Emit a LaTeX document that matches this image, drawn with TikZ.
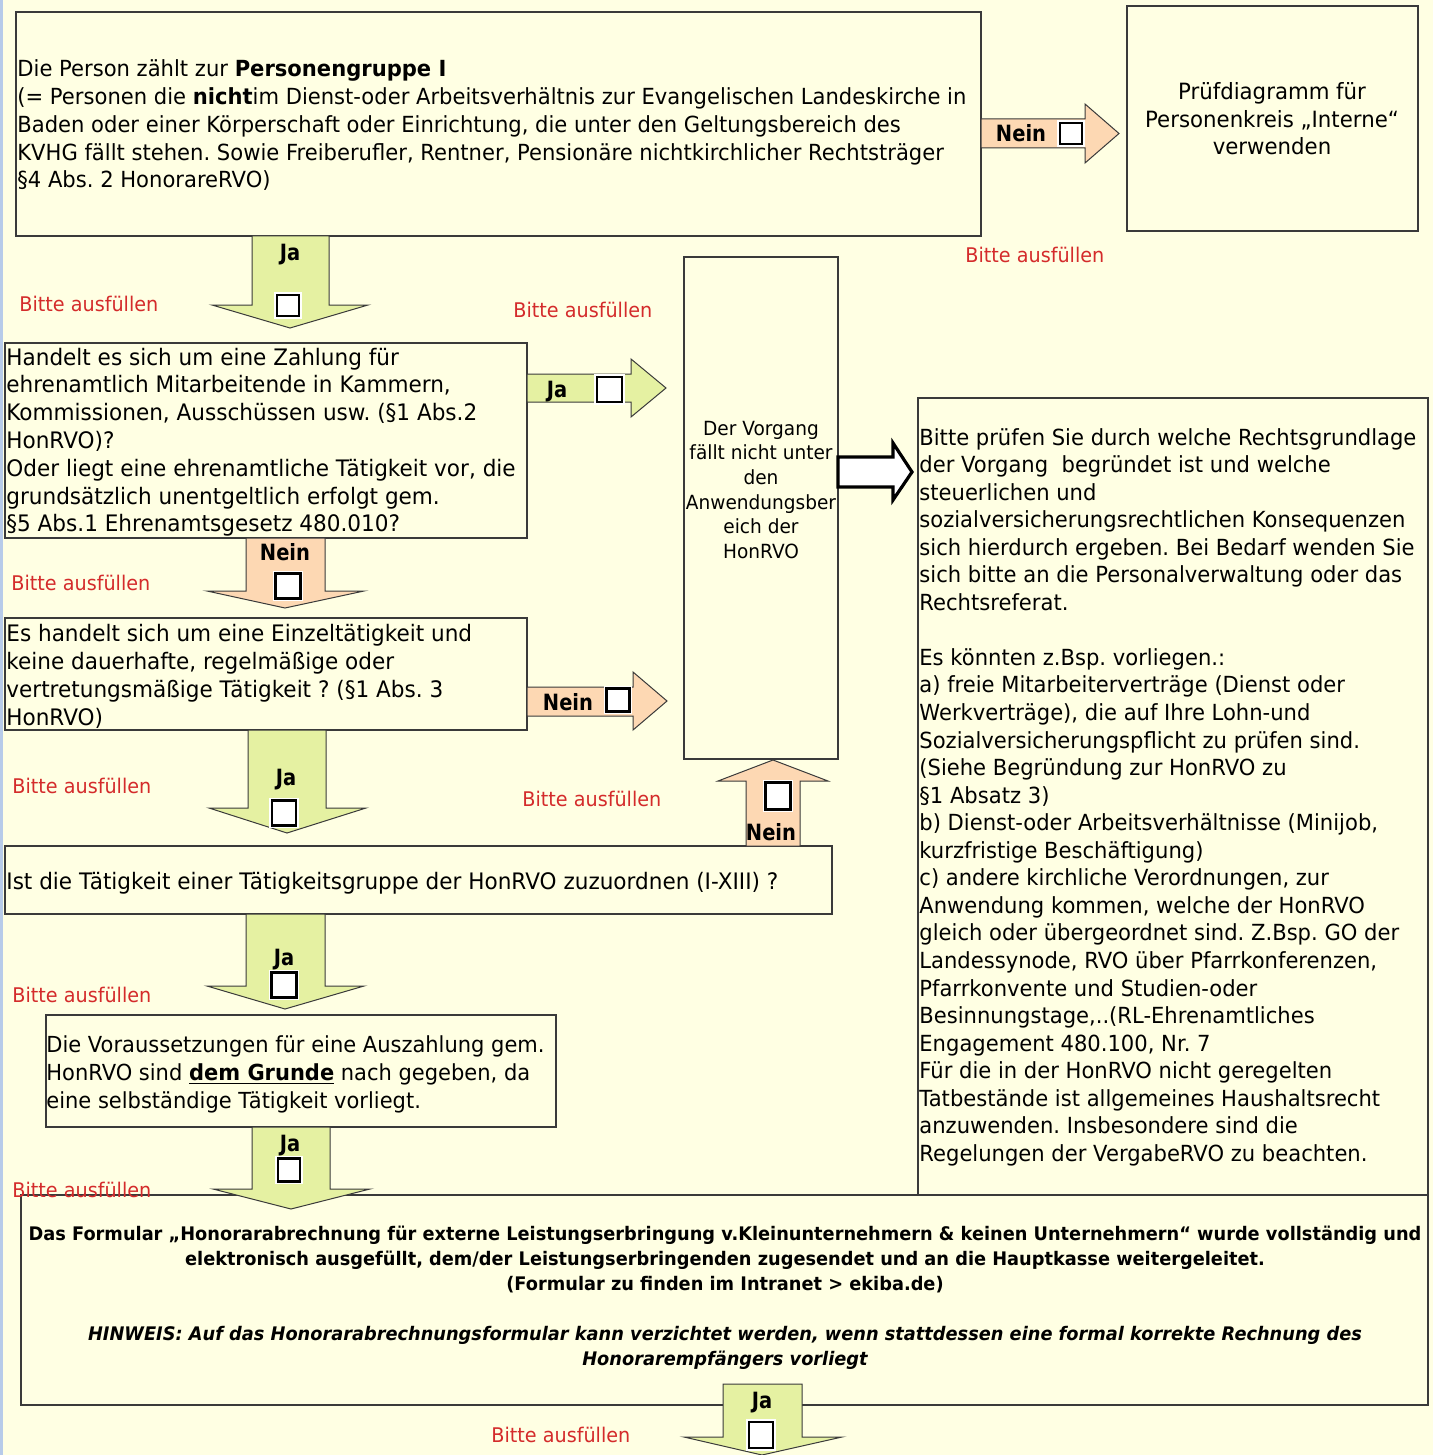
\documentclass[tikz,border=0pt]{standalone}
\usepackage{fontspec}
\setmainfont{DejaVu Sans}[FakeStretch=0.95]
\newfontfamily\narrowfont{DejaVu Sans}[FakeStretch=0.87]
\usetikzlibrary{fit}
\definecolor{bgc}{HTML}{FFFFE3}
\definecolor{stripc}{HTML}{B7CBE9}
\definecolor{greenc}{HTML}{E5F1A2}
\definecolor{peachc}{HTML}{FDD8B3}
\definecolor{redc}{HTML}{D42B2B}
\definecolor{linec}{HTML}{3A3A3A}
\newcommand\mlines[2]{\begin{tabular}[t]{@{}#1@{}}#2\end{tabular}}
\frenchspacing
\begin{document}
\frenchspacing
\begin{tikzpicture}[x=0.5pt,y=-0.5pt,
  boxst/.style={draw=linec, line width=0.65pt, fill=bgc, inner sep=0pt},
  garrow/.style={draw=linec, line width=0.5pt, fill=greenc, line join=miter},
  parrow/.style={draw=linec, line width=0.5pt, fill=peachc, line join=miter},
  warrow/.style={draw=black, line width=1.6pt, fill=white, line join=miter},
  txt/.style={inner sep=0pt, anchor=base west},
  ctxt/.style={inner sep=0pt, anchor=base},
  lbl/.style={inner sep=0pt, anchor=base, font=\narrowfont\bfseries\fontsize{11.2}{13}\selectfont},
  redlbl/.style={inner sep=0pt, anchor=base west, text=redc, font=\fontsize{10.1}{12}\selectfont},
  cbox/.style={rectangle, draw=black, line width=1.2pt, fill=white, inner sep=0pt,
    preaction={draw=white, line width=2.6pt}}
]
\useasboundingbox (0,0) rectangle (1433,1455);
\fill[bgc] (0,0) rectangle (1433,1455);
\fill[stripc] (0,0) rectangle (3,1455);

% boxes
\node[boxst, fit={(16,12) (981,236)}] (b1) {};
\node[boxst, fit={(1127,6) (1418,231)}] (b2) {};
\node[boxst, fit={(5,343) (527,538)}] (b3) {};
\node[boxst, fit={(684,257) (838,759)}] (b4) {};
\node[boxst, fit={(918,398) (1428,1196)}] (b5) {};
\node[boxst, fit={(5,618) (527,730)}] (b6) {};
\node[boxst, fit={(5,846) (832,914)}] (b7) {};
\node[boxst, fit={(46,1015) (556,1127)}] (b8) {};
\node[boxst, fit={(21,1195) (1428,1405)}] (b9) {};

% block arrows
\filldraw[garrow] (252,236) -- (252,305) -- (212,305) -- (290,328) -- (368,305) -- (329,305) -- (329,236) -- cycle;
\filldraw[parrow] (981,119) -- (1085,119) -- (1085,104) -- (1119,133.5) -- (1085,163) -- (1085,148) -- (981,148) -- cycle;
\filldraw[garrow] (527,374) -- (631,374) -- (631,359) -- (666,388) -- (631,417) -- (631,402) -- (527,402) -- cycle;
\filldraw[parrow] (246,538) -- (246,591) -- (207,591) -- (285,608) -- (364,591) -- (325,591) -- (325,538) -- cycle;
\filldraw[parrow] (527,687) -- (633,687) -- (633,672) -- (667,701) -- (633,730) -- (633,716) -- (527,716) -- cycle;
\filldraw[garrow] (248,730) -- (248,808) -- (209,808) -- (287,833) -- (366,808) -- (326,808) -- (326,730) -- cycle;
\filldraw[parrow] (746,846) -- (746,781) -- (718,781) -- (773,760) -- (828,781) -- (800,781) -- (800,846) -- cycle;
\filldraw[garrow] (246,914) -- (246,986) -- (207,986) -- (285,1009) -- (364,986) -- (325,986) -- (325,914) -- cycle;
\filldraw[garrow] (252,1127) -- (252,1189) -- (213,1189) -- (291,1209) -- (370,1189) -- (330,1189) -- (330,1127) -- cycle;
\filldraw[garrow] (723,1384) -- (723,1437) -- (684,1437) -- (762,1455) -- (842,1437) -- (802,1437) -- (802,1384) -- cycle;
\filldraw[warrow] (838,457) -- (893,457) -- (893,443) -- (912,472) -- (893,500) -- (893,487) -- (838,487) -- cycle;

% texts
\node[txt, font=\fontsize{11.1}{13.875}\selectfont] (t1) at (17,77) {\mlines{l}{%
Die Person zählt zur \textbf{Personengruppe I}\\
(= Personen die \textbf{nicht}im Dienst-oder Arbeitsverhältnis zur Evangelischen Landeskirche in\\
Baden oder einer Körperschaft oder Einrichtung, die unter den Geltungsbereich des\\
KVHG fällt stehen. Sowie Freiberufler, Rentner, Pensionäre nichtkirchlicher Rechtsträger\\
§4 Abs. 2 HonorareRVO)}};
\node[ctxt, font=\fontsize{11.2}{13.75}\selectfont] (t2) at (1272,100) {\mlines{c}{%
Prüfdiagramm für\\ Personenkreis „Interne“\\ verwenden}};
\node[txt, font=\fontsize{11.35}{13.9}\selectfont] (t3) at (6,365) {\mlines{l}{%
Handelt es sich um eine Zahlung für\\
ehrenamtlich Mitarbeitende in Kammern,\\
Kommissionen, Ausschüssen usw. (§1 Abs.2\\
HonRVO)?\\
Oder liegt eine ehrenamtliche Tätigkeit vor, die\\
grundsätzlich unentgeltlich erfolgt gem.\\
§5 Abs.1 Ehrenamtsgesetz 480.010?}};
\node[ctxt, font=\fontsize{9.75}{12.35}\selectfont] (t4) at (761,435) {\mlines{c}{%
Der Vorgang\\ fällt nicht unter\\ den\\ Anwendungsber\\ eich der\\ HonRVO}};
\node[txt, font=\fontsize{11.1}{13.775}\selectfont] (t5) at (919,445) {\mlines{l}{%
Bitte prüfen Sie durch welche Rechtsgrundlage\\
der Vorgang\ \ begründet ist und welche\\
steuerlichen und\\
sozialversicherungsrechtlichen Konsequenzen\\
sich hierdurch ergeben. Bei Bedarf wenden Sie\\
sich bitte an die Personalverwaltung oder das\\
Rechtsreferat.\\
\\
Es könnten z.Bsp. vorliegen.:\\
a) freie Mitarbeiterverträge (Dienst oder\\
Werkverträge), die auf Ihre Lohn-und\\
Sozialversicherungspflicht zu prüfen sind.\\
(Siehe Begründung zur HonRVO zu\\
§1 Absatz 3)\\
b) Dienst-oder Arbeitsverhältnisse (Minijob,\\
kurzfristige Beschäftigung)\\
c) andere kirchliche Verordnungen, zur\\
Anwendung kommen, welche der HonRVO\\
gleich oder übergeordnet sind. Z.Bsp. GO der\\
Landessynode, RVO über Pfarrkonferenzen,\\
Pfarrkonvente und Studien-oder\\
Besinnungstage,..(RL-Ehrenamtliches\\
Engagement 480.100, Nr. 7\\
Für die in der HonRVO nicht geregelten\\
Tatbestände ist allgemeines Haushaltsrecht\\
anzuwenden. Insbesondere sind die\\
Regelungen der VergabeRVO zu beachten.}};
\node[txt, font=\fontsize{11.35}{14}\selectfont] (t6) at (6,641) {\mlines{l}{%
Es handelt sich um eine Einzeltätigkeit und\\
keine dauerhafte, regelmäßige oder\\
vertretungsmäßige Tätigkeit ? (§1 Abs. 3\\
HonRVO)}};
\node[txt, font=\fontsize{11.35}{14}\selectfont] (t7) at (6,889) {Ist die Tätigkeit einer Tätigkeitsgruppe der HonRVO zuzuordnen (I-XIII) ?};
\node[txt, font=\fontsize{11.05}{14}\selectfont] (t8) at (46,1052) {\mlines{l}{%
Die Voraussetzungen für eine Auszahlung gem.\\
HonRVO sind \underline{\textbf{dem Grunde}} nach gegeben, da\\
eine selbständige Tätigkeit vorliegt.}};
\node[ctxt, font=\bfseries\fontsize{9.35}{12.5}\selectfont] (t9) at (725,1240) {\mlines{c}{%
Das Formular „Honorarabrechnung für externe Leistungserbringung v.Kleinunternehmern \& keinen Unternehmern“ wurde vollständig und\\
elektronisch ausgefüllt, dem/der Leistungserbringenden zugesendet und an die Hauptkasse weitergeleitet.\\
(Formular zu finden im Intranet > ekiba.de)\\
\\
\itshape HINWEIS: Auf das Honorarabrechnungsformular kann verzichtet werden, wenn stattdessen eine formal korrekte Rechnung des\\
\itshape Honorarempfängers vorliegt}};

% red hints
\node[redlbl] (r1) at (19,311) {Bitte ausfüllen};
\node[redlbl] (r2) at (965,263) {Bitte ausfüllen};
\node[redlbl] (r3) at (513,317) {Bitte ausfüllen};
\node[redlbl] (r4) at (11,590) {Bitte ausfüllen};
\node[redlbl] (r5) at (12,793) {Bitte ausfüllen};
\node[redlbl] (r6) at (522,806) {Bitte ausfüllen};
\node[redlbl] (r7) at (12,1002) {Bitte ausfüllen};
\node[redlbl] (r8) at (12,1197) {Bitte ausfüllen};
\node[redlbl] (r9) at (491,1442) {Bitte ausfüllen};

% Ja / Nein labels
\node[lbl] (l1) at (290,261) {Ja};
\node[lbl] (l2) at (1021,142) {Nein};
\node[lbl] (l3) at (557,397) {Ja};
\node[lbl] (l4) at (285,560) {Nein};
\node[lbl] (l5) at (568,710) {Nein};
\node[lbl] (l6) at (286,785) {Ja};
\node[lbl] (l7) at (771,840) {Nein};
\node[lbl] (l8) at (284,965) {Ja};
\node[lbl] (l9) at (290,1151) {Ja};
\node[lbl] (l10) at (762,1408) {Ja};

% checkboxes
\node[cbox, minimum width=11pt, minimum height=10.5pt] (c1) at (288,305.5) {};
\node[cbox, minimum width=11pt, minimum height=10.5pt] (c2) at (1071,133.5) {};
\node[cbox, minimum width=12.5pt, minimum height=12.5pt] (c3) at (609.5,389.5) {};
\node[cbox, minimum width=12.5pt, minimum height=12.5pt] (c4) at (288,586) {};
\node[cbox, minimum width=11.5pt, minimum height=11.5pt] (c5) at (618,700) {};
\node[cbox, minimum width=12pt, minimum height=12.5pt] (c6) at (284,813) {};
\node[cbox, minimum width=12.5pt, minimum height=13.5pt] (c7) at (778,796) {};
\node[cbox, minimum width=12.5pt, minimum height=12.5pt] (c8) at (284,985) {};
\node[cbox, minimum width=11pt, minimum height=11.5pt] (c9) at (289,1170) {};
\node[cbox, minimum width=12pt, minimum height=13pt] (c10) at (761,1435) {};
\end{tikzpicture}
\end{document}
